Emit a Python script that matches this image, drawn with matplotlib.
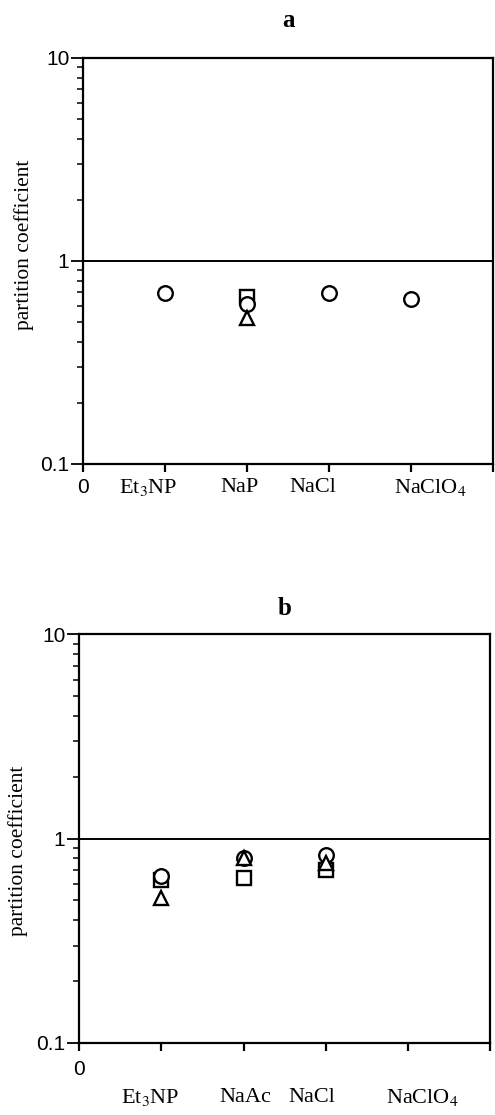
import matplotlib
matplotlib.use("Agg")
import matplotlib.pyplot as plt
from matplotlib.ticker import LogLocator, NullFormatter, FixedLocator, FixedFormatter

# ---- data ----
# panel a
a_labels = ["0", "Et$_3$NP", "NaP", "NaCl", "NaClO$_4$"]
a_circle_x = [1, 2, 3, 4]
a_circle_y = [0.695, 0.61, 0.695, 0.65]
a_square_x = [2]
a_square_y = [0.665]
a_triangle_x = [2]
a_triangle_y = [0.525]

# panel b
b_labels = ["0", "Et$_3$NP", "NaAc", "NaCl", "NaClO$_4$"]
b_circle_x = [1, 2, 3]
b_circle_y = [0.66, 0.80, 0.835]
b_square_x = [1, 2, 3]
b_square_y = [0.63, 0.645, 0.70]
b_triangle_x = [1, 2, 3]
b_triangle_y = [0.51, 0.80, 0.76]

y_ticks = [0.1, 1, 10]
y_ticklabels = ["0.1", "1", "10"]
ylabel = "partition coefficient"

serif = ["Liberation Serif", "DejaVu Serif"]
sans = ["Liberation Sans", "DejaVu Sans"]
plt.rcParams["mathtext.fontset"] = "stix"

fig = plt.figure(figsize=(4.95, 11.15), dpi=100)

def panel(rect, title, title_pad, labels, label_x, label_dy, zero_dy, ylab_pos,
          cx, cy, sx, sy, tx, ty):
    ax = fig.add_axes(rect)
    ax.set_yscale("log")
    ax.set_ylim(0.1, 10)
    ax.set_xlim(0, 5)
    for s in ax.spines.values():
        s.set_linewidth(1.6)
    ax.axhline(1, color="black", lw=1.4)
    mk = dict(linestyle="none", markerfacecolor="white", markeredgecolor="black",
              markeredgewidth=1.7, clip_on=False)
    ax.plot(sx, sy, marker="s", markersize=10, **mk)
    ax.plot(cx, cy, marker="o", markersize=10.5, **mk)
    ax.plot(tx, ty, marker="^", markersize=10.5, **mk)
    # y ticks
    ax.yaxis.set_major_locator(FixedLocator(y_ticks))
    ax.yaxis.set_major_formatter(FixedFormatter(y_ticklabels))
    ax.yaxis.set_minor_locator(LogLocator(base=10, subs=range(2, 10)))
    ax.yaxis.set_minor_formatter(NullFormatter())
    ax.tick_params(axis="y", which="major", direction="out", length=9, width=1.3,
                   pad=1, labelsize=15)
    ax.tick_params(axis="y", which="minor", direction="out", length=4, width=1.1)
    for t in ax.get_yticklabels():
        t.set_fontfamily(sans)
    # x ticks
    ax.set_xticks([0, 1, 2, 3, 4, 5])
    ax.set_xticklabels([])
    ax.tick_params(axis="x", which="major", direction="out", length=6, width=1.6)
    ax.tick_params(axis="x", which="minor", bottom=False)
    # x labels (placed as in reference)
    for i, (lab, lx) in enumerate(zip(labels, label_x)):
        dy = zero_dy if i == 0 else label_dy
        fam = sans if i == 0 else serif
        ax.annotate(lab, xy=(lx, 0), xycoords=("data", "axes fraction"),
                    xytext=(0, dy), textcoords="offset points",
                    ha="center", va="center", fontsize=16 if i else 15,
                    fontfamily=fam)
    ax.set_ylabel(ylabel, fontsize=15.5, fontfamily=serif)
    ax.yaxis.set_label_coords(*ylab_pos)
    ax.set_title(title, fontsize=18, fontweight="bold", fontfamily=serif, pad=title_pad)
    return ax

panel([0.168, 0.584, 0.828, 0.364], "a", 22, a_labels,
      [0.0, 0.79, 1.91, 2.80, 4.23], -17, -17, (-0.12, 0.54),
      a_circle_x, a_circle_y, a_square_x, a_square_y, a_triangle_x, a_triangle_y)
panel([0.160, 0.0646, 0.830, 0.3664], "b", 14, b_labels,
      [0.0, 0.86, 2.02, 2.83, 4.18], -39, -19, (-0.125, 0.47),
      b_circle_x, b_circle_y, b_square_x, b_square_y, b_triangle_x, b_triangle_y)

fig.savefig("out.png", dpi=100)
